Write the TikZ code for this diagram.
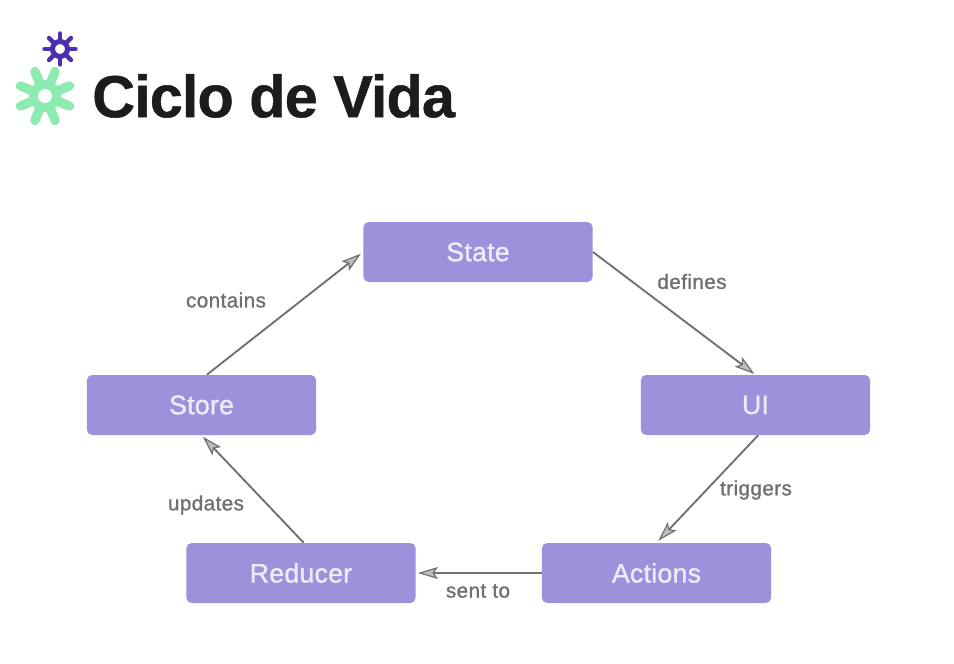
\documentclass[tikz,border=0pt]{standalone}
\usepackage{fontspec}
\setmainfont{Liberation Sans}
\newfontfamily\boxfont[FakeBold=1.3,LetterSpace=1]{Liberation Sans}
\newfontfamily\lblfont[FakeBold=1.1,LetterSpace=2]{Liberation Sans}
\newfontfamily\titlefont[FakeBold=0.8,LetterSpace=-1.5]{Liberation Sans Bold}
\usetikzlibrary{arrows.meta}
\definecolor{boxfill}{HTML}{9C91DA}
\definecolor{boxtext}{HTML}{EEEAFA}
\definecolor{lbl}{HTML}{707070}
\definecolor{conn}{HTML}{707070}
\definecolor{arrowfill}{HTML}{BEBEBE}
\definecolor{titlec}{HTML}{1A1C1E}
\definecolor{gearg}{HTML}{8CEBB0}
\definecolor{gearp}{HTML}{4B2FB0}
\tikzset{
  x=0.75pt,y=-0.75pt,
  flowbox/.style={draw=none,fill=boxfill,rounded corners=4pt,minimum width=172pt,minimum height=45pt,inner sep=0pt,text=boxtext,font=\boxfont\fontsize{20}{22}\selectfont},
  edgelabel/.style={text=lbl,inner sep=0pt,font=\lblfont\fontsize{15.5}{17}\selectfont},
  flow/.style={draw=conn,line width=1.4pt,-{Stealth[length=15pt,width=9pt,inset=3pt,fill=arrowfill,line width=0.9pt]}},
  titletext/.style={text=titlec,inner sep=0pt,anchor=west,font=\titlefont\fontsize{44.5}{48}\selectfont},
}
\newcommand{\gearshape}[6]{% x,y,rout,rring,width,colour ; offset via \gearoff
  \foreach \a in {0,45,...,315}{
    \draw[#6,line width=#5,line cap=round] ({#1+(#4)*cos(\a+\gearoff)},{#2+(#4)*sin(\a+\gearoff)}) -- ({#1+(#3)*cos(\a+\gearoff)},{#2+(#3)*sin(\a+\gearoff)});
  }
}
\begin{document}
\begin{tikzpicture}
\useasboundingbox (0,0) rectangle (954,664);
\fill[white] (0,0) rectangle (954,664);
% gears
\def\gearoff{22.5}
\gearshape{45}{96}{26.5}{12}{7pt}{gearg}
\draw[gearg,line width=6.5pt] (45,96) circle[radius=11.5];
\def\gearoff{0}
\gearshape{60}{49}{15.5}{8}{3.3pt}{gearp}
\draw[gearp,line width=3.8pt] (60,49) circle[radius=7.5];
\node[titletext] (title) at (92,96) {Ciclo de Vida};
% boxes
\node[flowbox] (state) at (478,252) {\raisebox{-1pt}{State}};
\node[flowbox] (ui) at (755.5,405) {\raisebox{-1pt}{UI}};
\node[flowbox] (actions) at (656.5,573) {\raisebox{-1pt}{Actions}};
\node[flowbox] (reducer) at (301,573) {\raisebox{-1pt}{Reducer}};
\node[flowbox] (store) at (201.5,405) {\raisebox{-1pt}{Store}};
% connectors
\draw[flow,shorten >=2pt] ([xshift=4pt]store.north) -- (state.west);
\draw[flow,shorten >=1pt] (state.east) -- (ui.north);
\draw[flow,shorten >=2pt] ([xshift=2pt]ui.south) -- (actions.north);
\draw[flow,shorten >=1.5pt] (actions.west) -- (reducer.east);
\draw[flow,shorten >=1.5pt] ([xshift=2pt]reducer.north) -- (store.south);
% labels
\node[edgelabel] (l1) at (226,300) {contains};
\node[edgelabel] (l2) at (692,281.5) {defines};
\node[edgelabel] (l3) at (756,490) {triggers};
\node[edgelabel] (l4) at (478,591) {sent to};
\node[edgelabel] (l5) at (206,505) {updates};
\end{tikzpicture}
\end{document}
